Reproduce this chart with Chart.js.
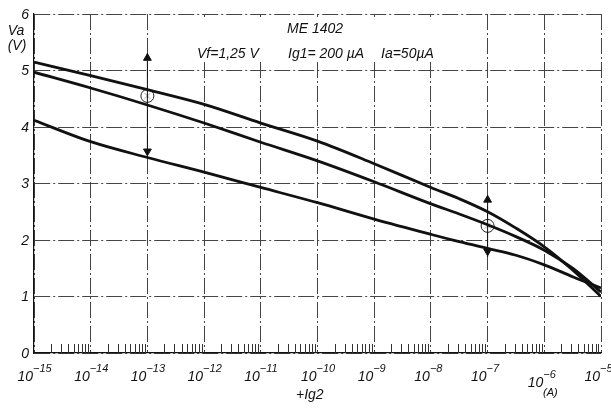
<!DOCTYPE html>
<html><head><meta charset="utf-8">
<script src="https://cdn.jsdelivr.net/npm/chart.js@4"></script>
<style>html,body{margin:0;padding:0;background:#fff}#wrap{width:611px;height:408px;position:relative}</style>
</head><body><div id="wrap"><canvas id="c"></canvas></div>
<script>
// Grid current Ig2 (A), log scale
const currents = [1e-15,1e-14,1e-13,1e-12,1e-11,1e-10,1e-9,1e-8,3.16e-8,1e-7,3.16e-7,1e-6,3.16e-6,1e-5];
// Anode voltage Va (V) for the three curves
const upperCurve  = [5.15,4.91,4.66,4.40,4.07,3.75,3.35,2.93,2.73,2.50,2.21,1.88,1.47,1.00];
const middleCurve = [4.97,4.69,4.39,4.07,3.73,3.40,3.03,2.64,2.46,2.27,2.06,1.82,1.50,1.08];
const lowerCurve  = [4.12,3.74,3.46,3.20,2.93,2.66,2.37,2.10,1.97,1.85,1.73,1.56,1.35,1.15];
// Marked points (circles) and arrow ranges
const markX = [1e-13, 1e-7];
const markY = [4.55, 2.25];
const arrowLow  = [3.47, 1.70];
const arrowHigh = [5.31, 2.80];
const arrowUpHead   = [5.22, 2.71];
const arrowDownHead = [3.57, 1.80];
// Tick labels
const decadeExps = [-15,-14,-13,-12,-11,-10,-9,-8,-7,-6,-5];
const yTicks = [0,1,2,3,4,5,6];
const xTitle = '+Ig2';
const yTitle = ['Va','(V)'];
const titleText = 'ME 1402';
const condTexts = ['Vf=1,25 V','Ig1= 200 µA','Ia=50µA'];

const FONT = 'italic 14px "Liberation Sans", Arial, sans-serif';
const FONT_SUP = 'italic 11px "Liberation Sans", Arial, sans-serif';
const INK = '#111';

const pts = arr => currents.map((x,i)=>({x, y: arr[i]}));
const curveDs = arr => ({type:'line', data: pts(arr), borderColor: INK, borderWidth: 2.8,
  pointRadius: 0, cubicInterpolationMode: 'monotone', fill: false});

const datasets = [curveDs(upperCurve), curveDs(middleCurve), curveDs(lowerCurve)];
markX.forEach((x,i)=>{
  datasets.push({type:'line', data:[{x, y:arrowLow[i]},{x, y:arrowHigh[i]}], borderColor: INK, borderWidth: 1, pointRadius: 0});
});
datasets.push({type:'scatter', data: markX.flatMap((x,i)=>[{x,y:arrowUpHead[i]},{x,y:arrowDownHead[i]}]),
  pointStyle:'triangle', pointRadius:4.5, rotation:[0,180,0,180], backgroundColor: INK, borderColor: INK, borderWidth:1});
datasets.push({type:'scatter', data: markX.map((x,i)=>({x,y:markY[i]})), pointStyle:'circle', pointRadius:6.5,
  backgroundColor:'rgba(255,255,255,0.6)', borderColor:'#222', borderWidth:1});
datasets.push({type:'scatter', data: markX.map((x,i)=>({x,y:markY[i]})), pointStyle:'crossRot', pointRadius:4,
  borderColor:'#222', borderWidth:1});

const deco = {
  id:'deco',
  beforeDraw(chart){
    const c = chart.ctx; c.save(); c.fillStyle='#fff'; c.fillRect(0,0,chart.width,chart.height); c.restore();
  },
  beforeDatasetsDraw(chart){
    const c = chart.ctx, xs = chart.scales.x, a = chart.chartArea;
    c.save();
    // white box behind condition text
    c.fillStyle = '#fff';
    c.fillRect(193, a.top+3, 250, 45);
    // minor ticks
    c.strokeStyle = '#333'; c.lineWidth = 1;
    for (let e=-15; e<-5; e++){
      for (let k=2; k<=9; k++){
        const px = Math.round(xs.getPixelForValue(k*Math.pow(10,e)))+0.5;
        c.beginPath(); c.moveTo(px, a.bottom); c.lineTo(px, a.bottom-9); c.stroke();
      }
    }
    c.restore();
  },
  afterDraw(chart){
    const c = chart.ctx, xs = chart.scales.x, ys = chart.scales.y, a = chart.chartArea;
    c.save();
    c.fillStyle = INK;
    // y tick labels
    c.font = FONT; c.textAlign='right'; c.textBaseline='middle';
    yTicks.forEach(v=>{ c.fillText(String(v), 29, ys.getPixelForValue(v)+1); });
    // y title
    c.textAlign='center';
    c.fillText(yTitle[0], 16, 31);
    c.fillText(yTitle[1], 17, 46);
    // x tick labels
    decadeExps.forEach(e=>{
      const px = xs.getPixelForValue(Math.pow(10,e));
      const low = (e===-6) ? 6 : 0;
      c.font = FONT; c.textAlign='right'; c.textBaseline='alphabetic';
      c.fillText('10', px-1, 381+low);
      c.font = FONT_SUP; c.textAlign='left';
      c.fillText('−'+Math.abs(e), px-1, 372+low);
    });
    c.font = FONT_SUP; c.textAlign='center';
    c.fillText('(A)', xs.getPixelForValue(1e-6)+6, 396);
    // x title
    c.font = FONT; c.textAlign='left';
    c.fillText(xTitle, 296, 399);
    // title and conditions
    c.fillText(titleText, 287, 33);
    c.fillText(condTexts[0], 197, 58);
    c.fillText(condTexts[1], 288, 58);
    c.fillText(condTexts[2], 381, 58);
    c.restore();
  }
};

new Chart(document.getElementById('c'), {
  data: { datasets },
  options: {
    responsive: true, maintainAspectRatio: false, animation: false, devicePixelRatio: 1,
    layout: { padding: { left: 34, right: 10, top: 14, bottom: 55 } },
    plugins: { legend: { display: false }, tooltip: { enabled: false } },
    scales: {
      x: { type: 'logarithmic', min: 1e-15, max: 1e-5,
        afterBuildTicks: s => { s.ticks = decadeExps.map(e=>({value: Math.pow(10,e)})); },
        ticks: { display: false },
        grid: { color: '#444', lineWidth: 1, drawTicks: false },
        border: { display: true, color: '#111', width: 1.2, dash: [16,3,2,3] } },
      y: { type: 'linear', min: 0, max: 6,
        afterBuildTicks: s => { s.ticks = yTicks.map(v=>({value: v})); },
        ticks: { display: false },
        grid: { color: '#444', lineWidth: 1, drawTicks: false },
        border: { display: true, color: '#111', width: 1.2, dash: [16,3,2,3] } }
    }
  },
  plugins: [deco]
});
</script></body></html>
